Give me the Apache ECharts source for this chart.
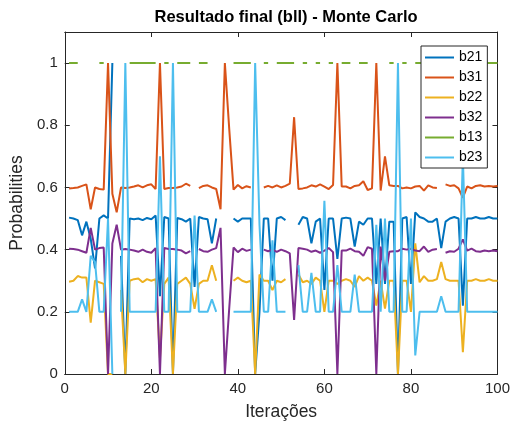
<!DOCTYPE html>
<html>
<head>
<meta charset="utf-8">
<script src="https://cdn.jsdelivr.net/npm/echarts@6/dist/echarts.min.js"></script>
<style>
  html, body { margin: 0; padding: 0; background: #ffffff; }
  #chart { width: 513px; height: 426px; }
</style>
</head>
<body>
<div id="chart"></div>
<script>
// Estimated emission probabilities per Monte Carlo iteration (1..100); null = no estimate.
const b21 = [
  0.503, 0.500, 0.495, 0.446, 0.490, 0.435, 0.340, 0.500, 0.510, 0.500,
  1.000, null,  0.380, 0.000, 0.500, 0.498, 0.500, 0.495, 0.502, 0.498,
  0.510, 0.250, 0.505, 0.500, 0.000, 0.502, 0.498, 0.490, 0.500, 0.280,
  0.505, 0.500, 0.498, 0.420, 0.500, null,  null,  null,  0.500, 0.490,
  0.500, 0.500, 0.500, 0.000, 0.200, 0.500, 0.500, 0.300, 0.500, 0.505,
  0.495, null,  null,  0.480, 0.505, 0.500, 0.420, 0.490, 0.500, 0.270,
  0.500, 0.500, 0.370, 0.500, 0.503, 0.500, 0.410, 0.490, 0.480, 0.500,
  0.500, 0.290, 0.500, 0.290, 0.490, 0.490, 0.000, 0.500, 0.505, 0.290,
  0.520, 0.505, 0.500, 0.490, 0.490, 0.500, 0.405, 0.490, 0.500, 0.505,
  0.500, 0.220, 0.500, 0.500, 0.505, 0.500, 0.500, 0.505, 0.500, 0.500
];
const b31 = [
  0.597, 0.598, 0.600, 0.605, 0.610, 0.530, 0.600, 0.595, 0.593, 1.000,
  0.580, 0.520, 0.600, 0.598, 0.600, 0.603, 0.607, 0.600, 0.607, 0.610,
  0.595, 1.000, 0.595, 0.598, 0.598, 0.600, 0.603, 0.612, 0.605, null,
  0.598, 0.605, 0.607, 0.600, 0.595, 0.530, 1.000, 0.790, 0.593, 0.608,
  0.597, 0.604, 0.600, null,  null,  0.600, 0.605, 0.600, 0.607, 0.600,
  0.605, 0.612, 0.826, 0.595, 0.597, 0.600, 0.607, 0.603, 0.610, 0.603,
  0.595, 0.608, 1.000, 0.603, 0.603, 0.597, 0.605, 0.607, 0.620, 0.592,
  0.597, 1.000, 0.590, 0.700, 0.607, 0.605, 0.605, 0.597, 0.600, 0.597,
  0.603, 0.605, 0.590, 0.607, 0.600, 0.598, null,  0.610, 0.605, 0.607,
  0.597, 0.567, 0.603, 0.597, 0.605, 0.607, 0.603, 0.605, 0.603, 0.605
];
const b22 = [
  0.297, 0.300, 0.315, 0.310, 0.310, 0.165, 0.300, 0.295, 0.290, 0.000,
  0.000, null,  0.270, 0.000, 0.300, 0.305, 0.307, 0.295, 0.305, 0.300,
  0.305, 0.050, 0.290, 0.310, 0.000, 0.290, 0.300, 0.310, 0.290, 0.210,
  0.290, 0.300, 0.300, 0.350, 0.300, null,  null,  null,  0.300, 0.310,
  0.300, 0.295, 0.300, 0.000, 0.320, 0.300, 0.300, 0.270, 0.300, 0.295,
  0.305, null,  null,  0.320, 0.295, 0.300, 0.290, 0.310, 0.300, 0.200,
  0.300, 0.300, 0.290, 0.300, 0.305, 0.300, 0.280, 0.315, 0.300, 0.310,
  0.300, 0.220, 0.300, 0.210, 0.300, 0.300, 0.000, 0.300, 0.300, 0.200,
  0.420, 0.295, 0.315, 0.300, 0.300, 0.305, 0.360, 0.305, 0.300, 0.300,
  0.300, 0.070, 0.300, 0.300, 0.305, 0.300, 0.300, 0.305, 0.300, 0.300
];
const b32 = [
  0.403, 0.402, 0.400, 0.395, 0.390, 0.470, 0.400, 0.405, 0.407, 0.000,
  0.420, 0.480, 0.400, 0.402, 0.400, 0.397, 0.393, 0.400, 0.393, 0.390,
  0.405, 0.000, 0.405, 0.402, 0.402, 0.400, 0.397, 0.388, 0.395, null,
  0.402, 0.395, 0.393, 0.400, 0.405, 0.470, 0.000, 0.210, 0.407, 0.392,
  0.403, 0.396, 0.400, null,  null,  0.400, 0.395, 0.400, 0.393, 0.400,
  0.395, 0.388, 0.174, 0.405, 0.403, 0.400, 0.393, 0.397, 0.390, 0.397,
  0.405, 0.392, 0.000, 0.397, 0.397, 0.403, 0.395, 0.393, 0.380, 0.408,
  0.403, 0.000, 0.410, 0.300, 0.393, 0.395, 0.395, 0.403, 0.400, 0.403,
  0.397, 0.395, 0.410, 0.393, 0.400, 0.402, null,  0.390, 0.395, 0.393,
  0.403, 0.433, 0.397, 0.403, 0.395, 0.393, 0.397, 0.395, 0.397, 0.395
];
const b13 = [
  1, 1, 1, null, null, null, null, 1, 1, null,
  null, null, null, null, 1, 1, 1, 1, 1, 1,
  1, null, 1, 1, null, 1, 1, 1, 1, null,
  1, 1, 1, null, null, null, null, null, 1, 1,
  1, 1, 1, null, null, 1, 1, null, 1, 1,
  1, 1, 1, null, 1, 1, null, 1, 1, null,
  1, 1, null, 1, 1, 1, null, 1, 1, 1,
  null, null, null, null, 1, 1, null, 1, 1, null,
  1, 1, 1, 1, 1, 1, null, 1, 1, 1,
  1, null, 1, 1, 1, 1, 1, 1, 1, 1
];
const b23 = [
  0.200, 0.200, 0.200, 0.240, 0.200, 0.380, 0.360, 0.200, 0.200, 0.500,
  0.000, null,  0.200, 1.000, 0.200, 0.200, 0.200, 0.200, 0.200, 0.200,
  0.200, 0.700, 0.200, 0.200, 1.000, 0.200, 0.200, 0.200, 0.200, 0.510,
  0.200, 0.200, 0.200, 0.240, 0.200, null,  null,  null,  0.200, 0.200,
  0.200, 0.200, 0.200, 1.000, 0.480, 0.200, 0.200, 0.430, 0.200, 0.200,
  0.200, null,  null,  0.350, 0.200, 0.200, 0.325, 0.200, 0.200, 0.557,
  0.200, 0.200, 0.350, 0.200, 0.200, 0.200, 0.320, 0.200, 0.200, 0.200,
  0.200, 0.480, 0.200, 0.500, 0.200, 0.200, 1.000, 0.200, 0.200, 0.500,
  0.060, 0.200, 0.200, 0.200, 0.200, 0.200, 0.250, 0.200, 0.200, 0.200,
  0.200, 0.700, 0.200, 0.200, 0.200, 0.200, 0.200, 0.200, 0.200, 0.200
];

const seriesNames = ['b21', 'b31', 'b22', 'b32', 'b13', 'b23'];
const seriesValues = [b21, b31, b22, b32, b13, b23];
const seriesColors = ['#0072BD', '#D95319', '#EDB120', '#7E2F8E', '#77AC30', '#4DBEEE'];

const FONT = '"Liberation Sans", Arial, Helvetica, sans-serif';
const AXIS = '#262626';

// pair each value with its iteration number (1-based)
const toPoints = vals => vals.map((v, k) => [k + 1, v]);

const chart = echarts.init(document.getElementById('chart'), null, { renderer: 'canvas' });

const frameAxis = (extra) => Object.assign({
  type: 'value',
  axisLine: { show: true, onZero: false, lineStyle: { color: AXIS, width: 1 } },
  axisTick: { show: true, inside: true, length: 5, lineStyle: { color: AXIS, width: 1 } },
  splitLine: { show: false },
  axisLabel: { show: false }
}, extra);

chart.setOption({
  animation: false,
  backgroundColor: '#ffffff',
  title: {
    text: 'Resultado final (bll) - Monte Carlo',
    left: 281,
    top: 4,
    textAlign: 'center',
    textStyle: { fontFamily: FONT, fontSize: 16.5, fontWeight: 'bold', color: '#000000' }
  },
  grid: { left: 62, top: 32, right: 13, bottom: 51, containLabel: false },
  legend: {
    orient: 'vertical',
    left: 421,
    top: 46,
    padding: [4, 5, 3, 4],
    icon: 'rect',
    itemWidth: 29,
    itemHeight: 2,
    itemGap: 5,
    backgroundColor: '#ffffff',
    borderColor: AXIS,
    borderWidth: 1,
    borderRadius: 0,
    textStyle: { fontFamily: FONT, fontSize: 14, color: '#000000', lineHeight: 15 },
    data: seriesNames
  },
  xAxis: [
    frameAxis({
      position: 'bottom', min: 0, max: 100, interval: 20,
      axisLabel: { show: true, color: AXIS, fontFamily: FONT, fontSize: 15, margin: 7 },
      name: 'Iterações', nameLocation: 'middle', nameGap: 29,
      nameTextStyle: { fontFamily: FONT, fontSize: 17.5, color: AXIS }
    }),
    frameAxis({ position: 'top', min: 0, max: 100, interval: 20 })
  ],
  yAxis: [
    frameAxis({
      position: 'left', min: 0, max: 1.1, interval: 0.2,
      axisLabel: { show: true, showMaxLabel: false, color: AXIS, fontFamily: FONT, fontSize: 15, margin: 7 },
      name: 'Probabilities', nameLocation: 'middle', nameGap: 33,
      nameTextStyle: { fontFamily: FONT, fontSize: 17.5, color: AXIS }
    }),
    frameAxis({ position: 'right', min: 0, max: 1.1, interval: 0.2 })
  ],
  series: seriesNames.map((name, s) => ({
    name: name,
    type: 'line',
    xAxisIndex: 0,
    yAxisIndex: 0,
    data: toPoints(seriesValues[s]),
    symbol: 'none',
    connectNulls: false,
    clip: true,
    lineStyle: { width: 2, color: seriesColors[s] },
    itemStyle: { color: seriesColors[s] },
    emphasis: { disabled: true }
  }))
});
</script>
</body>
</html>
